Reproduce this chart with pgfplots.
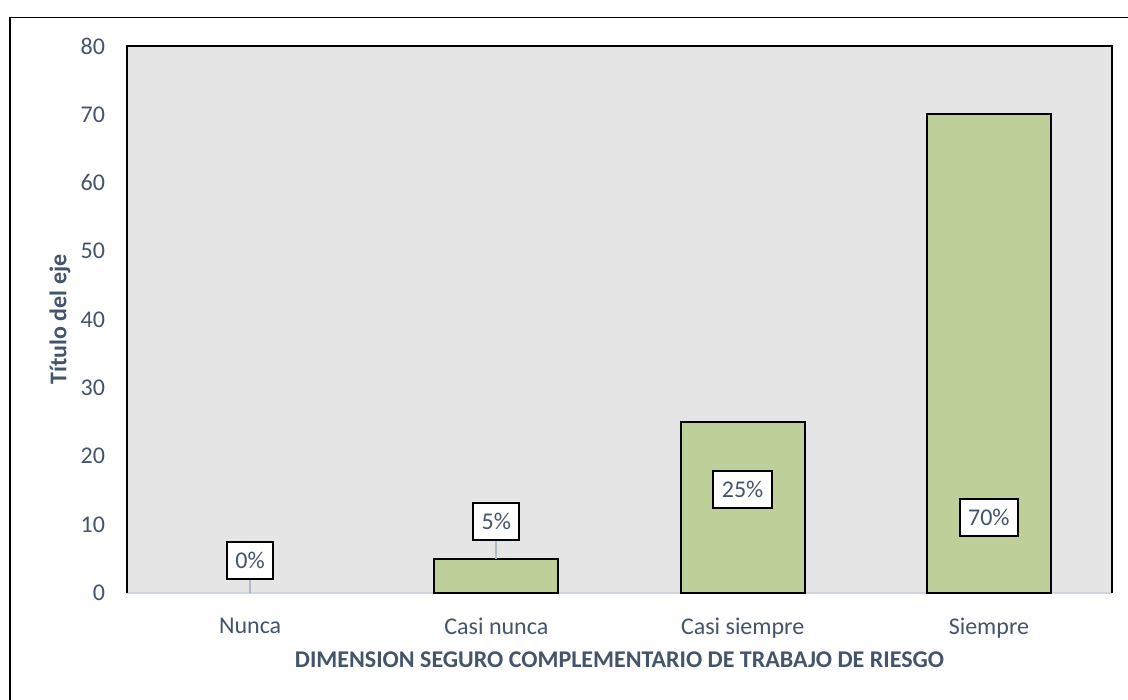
\documentclass[border=0pt]{standalone}
\usepackage{fontspec}
\setmainfont{Carlito}
\usepackage{pgfplots}
\pgfplotsset{compat=1.18}
\definecolor{TextSlate}{RGB}{68,84,106}
\definecolor{PlotGray}{RGB}{229,229,229}
\definecolor{BarGreen}{RGB}{191,207,153}
\definecolor{LeaderBlue}{RGB}{173,185,202}
\begin{document}
\begin{tikzpicture}
  \useasboundingbox (0,0) rectangle (564pt,350pt);
  % outer chart frame (only top and left visible)
  \draw[black, line width=0.9pt] (5pt,0) -- (5pt,341.25pt) -- (564pt,341.25pt);
  \begin{axis}[
    at={(63.5pt,53.5pt)}, anchor=south west,
    scale only axis,
    width=492.5pt, height=273.5pt,
    xmin=-0.5, xmax=3.5,
    ymin=0, ymax=80,
    xtick={0,1,2,3},
    xticklabels={Nunca, Casi nunca, Casi siempre, Siempre},
    ytick={0,10,20,30,40,50,60,70,80},
    major tick length=0pt,
    axis line style={draw=none},
    axis background/.style={fill=PlotGray},
    /pgf/number format/assume math mode=true,
    tick label style={font=\fontsize{12}{14}\selectfont, text=TextSlate},
    y tick label style={xshift=-7.5pt},
    x tick label style={yshift=-9pt},
    xlabel={DIMENSION SEGURO COMPLEMENTARIO DE TRABAJO DE RIESGO},
    ylabel={Título del eje},
    every axis x label/.style={at={(rel axis cs:0.5,0)}, yshift=-33.5pt, anchor=center,
      font=\fontsize{12}{14}\selectfont\bfseries, text=TextSlate},
    every axis y label/.style={at={(rel axis cs:0,0.5)}, xshift=-33.5pt, rotate=90, anchor=center,
      font=\fontsize{12}{14}\selectfont\bfseries, text=TextSlate},
    clip=false,
  ]
    % bottom axis line
    \draw[LeaderBlue!60!white, line width=1pt] (rel axis cs:0,0) -- (rel axis cs:1,0);
    % bars (Nunca = 0 has no visible bar)
    \addplot[ybar, bar width=62pt, bar shift=0pt, fill=BarGreen, draw=black, line width=1pt]
      coordinates {(1,5) (2,25) (3,70)};
    % leader lines
    \addplot[LeaderBlue, line width=1pt, mark=none] coordinates {(0,0) (0,2.2)};
    \addplot[LeaderBlue, line width=1pt, mark=none] coordinates {(1,5) (1,7.6)};
    % data labels
    \addplot[draw=none, mark=none, nodes near coords, point meta=explicit symbolic,
      every node near coord/.append style={anchor=center, fill=white, draw=black,
        line width=1pt, text=TextSlate, font=\fontsize{12}{14}\selectfont,
        inner xsep=4.2pt, minimum height=18.5pt}]
      coordinates {(0,4.8)[0\%] (1,10.4)[5\%] (2,15.2)[25\%] (3,11.1)[70\%]};
    % plot area border
    \draw[black, line width=1pt] (rel axis cs:0,0) -- (rel axis cs:0,1) -- (rel axis cs:1,1) -- (rel axis cs:1,0);
  \end{axis}
\end{tikzpicture}
\end{document}
